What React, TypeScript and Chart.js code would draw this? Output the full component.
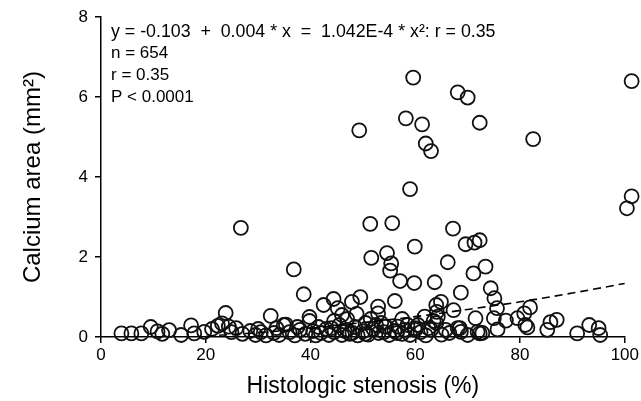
import React, { useEffect, useRef } from 'react';
import { Chart, registerables } from 'chart.js';

Chart.register(...registerables);

// Histologic stenosis (%) of each plotted lesion
const stenosisPct = [
  26.7, 36.8, 38.7, 49.3, 51.4, 55.6, 59.0, 51.6, 54.6, 55.4, 55.2, 59.9, 57.1, 59.8,
  59.6, 68.1, 70.0, 58.2, 61.3, 72.3, 62.0, 63.0, 82.5, 67.2, 69.6, 71.3, 72.3,
  101.3, 101.3, 100.4, 63.7, 66.2, 68.7, 71.1, 73.4, 74.4, 75.1, 75.6,
  42.5, 44.4, 45.2, 46.0, 47.9, 49.5, 48.8, 52.9, 52.9, 56.1, 64.0, 64.9, 64.1, 67.3,
  71.5, 61.8, 64.3, 35.3, 39.8, 39.8, 32.4, 23.8, 54.2, 56.7, 59.9, 63.0, 68.5, 65.8,
  75.0, 77.3, 79.5, 80.8, 81.9, 81.0, 81.4, 75.7, 72.3, 68.1, 68.7, 85.2, 85.8, 87.0,
  90.9, 93.2, 95.0, 95.3, 72.8,
  3.9, 5.8, 7.7, 9.5, 10.8, 11.7, 13.0, 15.3, 17.2, 17.8, 19.7, 21.2, 22.3, 23.1, 24.4,
  24.9, 25.8, 34.9,
  27.0, 28.5, 29.5, 30.5, 31.5, 33.0, 34.0, 36.0, 37.0, 38.0, 39.0, 40.5, 41.0, 42.0,
  43.0, 43.5, 44.5, 45.5, 46.0, 47.0, 47.5, 48.5, 49.0, 50.0, 50.5, 51.0, 52.0, 53.0,
  53.5, 55.0, 56.0, 57.5, 58.5, 59.0, 61.0, 62.0, 63.5, 65.0, 66.5, 70.0, 57.5, 64.0,
  54.4, 71.9, 60.0,
  41.5, 44.0, 46.5, 48.0, 50.5, 52.5, 54.0, 56.5, 58.0, 60.5, 62.5, 44.5, 47.0, 51.5,
  37.5, 33.5, 30.0
];

// Calcium area (mm²) of each plotted lesion
const calciumArea = [
  2.73, 1.69, 1.07, 5.17, 2.83, 2.85, 3.70, 1.98, 2.10, 1.84, 1.66, 2.26, 1.40, 1.35,
  6.49, 6.12, 5.99, 5.47, 5.32, 5.36, 4.84, 4.65, 4.95, 2.71, 2.32, 2.36, 2.42,
  6.40, 3.52, 3.22, 1.37, 1.87, 1.11, 1.59, 1.76, 1.22, 0.97, 0.72,
  0.80, 0.95, 0.72, 0.55, 0.88, 1.00, 0.58, 0.76, 0.59, 0.90, 0.80, 0.88, 0.63, 0.67,
  0.47, 0.51, 0.51, 0.31, 0.50, 0.40, 0.53, 0.60, 0.26, 0.26, 0.22, 0.18, 0.22, 0.18,
  0.47, 0.41, 0.47, 0.59, 0.74, 0.30, 0.24, 0.19, 0.09, 0.22, 0.13, 0.18, 0.37, 0.43,
  0.09, 0.30, 0.22, 0.05, 0.10,
  0.09, 0.09, 0.09, 0.25, 0.14, 0.08, 0.17, 0.05, 0.29, 0.09, 0.13, 0.20, 0.28, 0.34, 0.26,
  0.12, 0.22, 0.30,
  0.08, 0.15, 0.05, 0.12, 0.04, 0.10, 0.05, 0.12, 0.04, 0.18, 0.08, 0.15, 0.04, 0.10,
  0.20, 0.05, 0.12, 0.30, 0.05, 0.18, 0.08, 0.25, 0.04, 0.14, 0.35, 0.06, 0.20, 0.10,
  0.35, 0.05, 0.15, 0.08, 0.30, 0.05, 0.12, 0.04, 0.40, 0.06, 0.10, 0.05, 0.45, 0.35,
  0.26, 0.13, 0.18,
  0.25, 0.22, 0.15, 0.10, 0.08, 0.30, 0.12, 0.10, 0.18, 0.30, 0.22, 0.40, 0.45, 0.45,
  0.25, 0.22, 0.20
];

// Dashed regression curve
const fitX = [17.6, 20, 30, 40, 50, 60, 70, 80, 90, 100];
const fitY = [0, 0.02, 0.11, 0.22, 0.36, 0.51, 0.69, 0.88, 1.10, 1.34];

const xTicks = [0, 20, 40, 60, 80, 100];
const yTicks = [0, 2, 4, 6, 8];

const annotationLines = [
  'y = -0.103  +  0.004 * x  =  1.042E-4 * x²: r = 0.35',
  'n = 654',
  'r = 0.35',
  'P < 0.0001',
];

const xTitle = 'Histologic stenosis (%)';
const yTitle = 'Calcium area (mm²)';

const FONT = '"Liberation Sans", Arial, Helvetica, sans-serif';

export default function App() {
  const ref = useRef<HTMLCanvasElement | null>(null);

  useEffect(() => {
    if (!ref.current) return;
    const textPlugin = {
      id: 'statsText',
      afterDraw(chart: any) {
        const ctx = chart.ctx;
        ctx.save();
        ctx.fillStyle = '#000';
        ctx.textBaseline = 'middle';
        ctx.textAlign = 'left';
        annotationLines.forEach((t, i) => {
          ctx.font = `${i === 0 ? 17.8 : 17}px ${FONT}`;
          ctx.fillText(t, 111, 32 + i * 21.7);
        });
        ctx.restore();
      },
    };

    const chart = new Chart(ref.current, {
      type: 'scatter',
      data: {
        datasets: [
          {
            label: 'fit',
            data: fitX.map((x, i) => ({ x, y: fitY[i] })),
            showLine: true,
            borderColor: '#000',
            borderWidth: 1.6,
            borderDash: [8, 5],
            pointRadius: 0,
            tension: 0.4,
            cubicInterpolationMode: 'monotone',
            fill: false,
          } as any,
          {
            label: 'lesions',
            data: stenosisPct.map((x, i) => ({ x, y: calciumArea[i] })),
            pointRadius: 7,
            pointHoverRadius: 7,
            borderWidth: 1.8,
            borderColor: '#111',
            backgroundColor: 'rgba(0,0,0,0)',
            clip: false,
          } as any,
        ],
      },
      options: {
        responsive: false,
        animation: false,
        events: [],
        layout: { padding: { top: 17, right: 13, bottom: 0, left: 0 } },
        plugins: { legend: { display: false }, tooltip: { enabled: false } },
        scales: {
          x: {
            type: 'linear',
            min: 0,
            max: 100,
            afterBuildTicks: (s: any) => {
              s.ticks = xTicks.map((v) => ({ value: v }));
            },
            afterFit: (s: any) => {
              s.height = 64;
            },
            ticks: {
              color: '#000',
              font: { family: FONT, size: 17 },
              padding: 2,
              maxRotation: 0,
            },
            grid: {
              drawOnChartArea: false,
              drawTicks: true,
              tickLength: 6,
              color: '#000',
              lineWidth: 1.5,
            },
            border: { display: true, color: '#000', width: 1.5 },
            title: {
              display: true,
              text: xTitle,
              color: '#000',
              font: { family: FONT, size: 23 },
              padding: { top: 0, bottom: 1 },
            },
          },
          y: {
            type: 'linear',
            min: 0,
            max: 8,
            afterBuildTicks: (s: any) => {
              s.ticks = yTicks.map((v) => ({ value: v }));
            },
            afterFit: (s: any) => {
              s.width = 101;
            },
            ticks: {
              color: '#000',
              font: { family: FONT, size: 17 },
              padding: 7,
            },
            grid: {
              drawOnChartArea: false,
              drawTicks: true,
              tickLength: 6,
              color: '#000',
              lineWidth: 1.5,
            },
            border: { display: true, color: '#000', width: 1.5 },
            title: {
              display: true,
              text: yTitle,
              color: '#000',
              font: { family: FONT, size: 24 },
              padding: { top: 19, bottom: 0 },
            },
          },
        },
      } as any,
      plugins: [textPlugin],
    });
    return () => chart.destroy();
  }, []);

  return (
    <div style={{ position: 'absolute', left: 0, top: 0, width: 641, height: 401, background: '#fff' }}>
      <canvas ref={ref} width={641} height={401} style={{ display: 'block' }} />
    </div>
  );
}
